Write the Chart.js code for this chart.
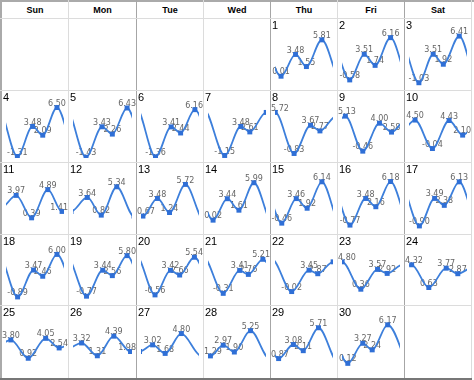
<!DOCTYPE html>
<html>
<head>
<meta charset="utf-8">
<script src="https://cdn.jsdelivr.net/npm/chart.js@4.4.0/dist/chart.umd.min.js"></script>
<style>
  body { margin: 0; background: #fff; font-family: "Liberation Sans", Arial, sans-serif; }
  #cal { position: relative; width: 474px; height: 380px; overflow: hidden; }
  .rule { position: absolute; }
  .head { position: absolute; font-weight: bold; font-size: 9px; line-height: 16px; text-align: center; color: #000; }
  .num { position: absolute; font-size: 11px; line-height: 11px; color: #000; z-index: 2; }
  canvas { position: absolute; }
</style>
</head>
<body>
<div id="cal"></div>
<script>
// Tide extremes for the month (hour of day, height)
const weekdays = ['Sun', 'Mon', 'Tue', 'Wed', 'Thu', 'Fri', 'Sat'];
const firstWeekday = 4; // the 1st is a Thursday

const tideHours = [
  [2.5, 8.5, 13.0, 19.4],
  [3.2, 9.2, 13.7, 20.1],
  [4.1, 10.0, 14.2, 20.8],
  [4.7, 11.0, 15.2, 21.1],
  [5.3, 11.8, 16.0, 22.0],
  [6.0, 12.5, 16.4, 22.3],
  [6.9, 13.6, 17.3],
  [0.1, 7.9, 14.7, 18.6],
  [1.4, 8.6, 15.5, 20.5],
  [2.5, 9.7, 16.6, 22.2],
  [4.2, 10.6, 17.3, 23.2],
  [5.8, 11.5, 17.8],
  [0.8, 6.8, 11.8, 18.4],
  [2.1, 8.0, 12.8, 19.0],
  [2.8, 8.8, 13.3, 19.4],
  [3.3, 9.8, 14.0, 20.1],
  [4.3, 10.6, 14.6, 20.8],
  [4.8, 11.4, 15.2, 21.1],
  [5.5, 12.1, 16.0, 22.0],
  [5.8, 12.2, 16.0, 22.1],
  [6.3, 13.1, 16.7, 22.7],
  [6.9, 14.1, 17.7],
  [0.05, 7.8, 14.7, 18.7],
  [1.1, 8.2, 15.4, 20.2],
  [2.0, 9.2, 16.4, 22.0],
  [3.5, 9.9, 16.6, 23.4],
  [4.8, 10.0, 16.7],
  [1.0, 6.3, 10.9, 17.6],
  [1.5, 7.6, 11.7, 18.0],
  [2.4, 8.6, 12.5, 18.9]
];

const tideHeights = [
  [0.01, 3.48, 1.55, 5.81],
  [-0.58, 3.51, 1.74, 6.16],
  [-1.03, 3.51, 1.92, 6.41],
  [-1.31, 3.48, 2.09, 6.50],
  [-1.43, 3.43, 2.26, 6.43],
  [-1.36, 3.41, 2.44, 6.16],
  [-1.15, 3.48, 2.61],
  [5.72, -0.83, 3.67, 2.77],
  [5.13, -0.46, 4.00, 2.58],
  [4.50, -0.04, 4.43, 2.10],
  [3.97, 0.39, 4.89, 1.41],
  [3.64, 0.82, 5.34],
  [0.67, 3.48, 1.24, 5.72],
  [0.02, 3.44, 1.61, 5.99],
  [-0.46, 3.46, 1.92, 6.14],
  [-0.77, 3.48, 2.16, 6.18],
  [-0.90, 3.49, 2.38, 6.13],
  [-0.89, 3.47, 2.46, 6.00],
  [-0.77, 3.44, 2.56, 5.80],
  [-0.56, 3.42, 2.66, 5.54],
  [-0.31, 3.41, 2.76, 5.21],
  [-0.02, 3.45, 2.87],
  [4.80, 0.36, 3.57, 2.92],
  [4.32, 0.63, 3.77, 2.87],
  [3.80, 0.92, 4.05, 2.54],
  [3.32, 1.31, 4.39, 1.98],
  [3.02, 1.68, 4.80],
  [1.29, 2.97, 1.90, 5.25],
  [0.87, 3.08, 2.11, 5.71],
  [0.12, 3.27, 2.24, 6.17]
];

// last extreme of the previous month and first of the next one
const prevMonthTide = { hour: -4.0, height: 5.3 };
const nextMonthTide = { hour: 3.4, height: -0.5 };

// grid layout
const colX = [1, 68, 136, 203, 270, 337, 404, 471];
const rowY = [18, 90, 162, 234, 305, 378];
const lineColor = '#3d7fdb';
const pointColor = '#2f6fd6';

const cal = document.getElementById('cal');

function rule(x, y, w, h, color) {
  const d = document.createElement('div');
  d.className = 'rule';
  d.style.cssText = `left:${x}px;top:${y}px;width:${w}px;height:${h}px;background:${color}`;
  cal.appendChild(d);
}

// header
weekdays.forEach((name, c) => {
  const d = document.createElement('div');
  d.className = 'head';
  d.textContent = name;
  d.style.left = (colX[c] + 1) + 'px';
  d.style.top = '2px';
  d.style.width = (colX[c + 1] - colX[c] - 1) + 'px';
  cal.appendChild(d);
});

// one continuous series across the month
const series = [{ x: prevMonthTide.hour, y: prevMonthTide.height }];
tideHours.forEach((hours, d) => {
  hours.forEach((h, i) => series.push({ x: d * 24 + h, y: tideHeights[d][i] }));
});
series.push({ x: tideHours.length * 24 + nextMonthTide.hour, y: nextMonthTide.height });

const pointLabels = {
  id: 'pointLabels',
  beforeDatasetsDraw(chart) {
    const { ctx } = chart;
    const xs = chart.scales.x;
    const meta = chart.getDatasetMeta(0);
    const data = chart.data.datasets[0].data;
    ctx.save();
    ctx.font = '8px "DejaVu Sans"';
    ctx.fillStyle = '#666';
    ctx.textBaseline = 'middle';
    meta.data.forEach((pt, i) => {
      const v = data[i];
      if (v.x < xs.min || v.x >= xs.max) return;
      const txt = v.y.toFixed(2);
      const w = ctx.measureText(txt).width;
      let lx = pt.x - w / 2;
      lx = Math.max(0, Math.min(chart.width - w, lx));
      ctx.fillText(txt, lx, pt.y - 4);
    });
    ctx.restore();
  }
};

tideHours.forEach((hours, d) => {
  const slot = d + firstWeekday;
  const c = slot % 7, r = Math.floor(slot / 7);
  const left = colX[c] + 1, top = rowY[r] + 1;
  const w = colX[c + 1] - colX[c] - 1, h = rowY[r + 1] - rowY[r] - 1;

  const num = document.createElement('div');
  num.className = 'num';
  num.textContent = d + 1;
  num.style.left = (colX[c] + 2) + 'px';
  num.style.top = (rowY[r] + 2) + 'px';
  cal.appendChild(num);

  const cv = document.createElement('canvas');
  cv.width = w; cv.height = h;
  cv.style.left = left + 'px'; cv.style.top = top + 'px';
  cv.style.width = w + 'px'; cv.style.height = h + 'px';
  cal.appendChild(cv);

  new Chart(cv.getContext('2d'), {
    type: 'line',
    data: {
      datasets: [{
        data: series,
        borderColor: lineColor,
        borderWidth: 1.8,
        cubicInterpolationMode: 'monotone',
        pointStyle: 'rect',
        pointRadius: 3.5,
        pointBackgroundColor: pointColor,
        pointBorderColor: pointColor,
        pointBorderWidth: 0
      }]
    },
    options: {
      responsive: false,
      animation: false,
      events: [],
      layout: { padding: 0 },
      plugins: { legend: { display: false }, tooltip: { enabled: false } },
      scales: {
        x: { type: 'linear', min: d * 24, max: d * 24 + 24, display: false },
        y: { min: -1.55, max: 8.5, display: false }
      }
    },
    plugins: [pointLabels]
  });
});

// grid lines
rule(0, 0, 474, 2, '#aaa');
rule(0, 0, 2, 380, '#aaa');
colX.forEach((x, i) => {
  if (i === 0) return;
  rule(x, 0, 1, 378, i % 2 === 0 ? '#a6a6a6' : '#dcdcdc');
});
rowY.forEach((y, i) => {
  if (i === rowY.length - 1) return;
  rule(0, y, 472, 1, '#dcdcdc');
});
rule(0, 378, 472, 2, '#777');
</script>
</body>
</html>
